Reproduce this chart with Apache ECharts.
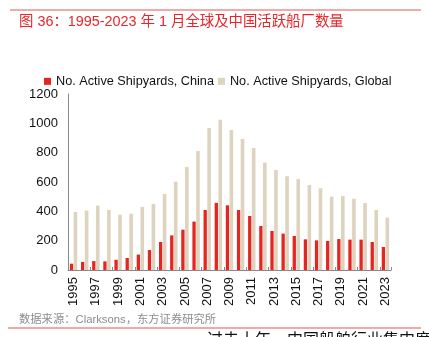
<!DOCTYPE html>
<html><head><meta charset="utf-8">
<script src="https://cdn.jsdelivr.net/npm/echarts@6/dist/echarts.min.js"></script>
<style>html,body{margin:0;padding:0;background:#fff}#c{width:429px;height:337px}</style>
</head><body><div id="c"></div>
<script>
var years = ['1995','1996','1997','1998','1999','2000','2001','2002','2003','2004','2005','2006','2007','2008','2009','2010','2011','2012','2013','2014','2015','2016','2017','2018','2019','2020','2021','2022','2023'];
var china = [43,55,61,59,70,82,105,136,191,236,275,330,409,458,441,409,368,300,266,248,232,209,202,198,211,207,207,191,157];
var globalVals = [395,405,439,409,377,384,430,450,518,602,702,811,968,1024,955,893,832,732,682,639,620,580,557,500,505,486,457,409,357];
var yTicks = {min:0, max:1200, interval:200};
var FF = '"Liberation Sans", Arial, "Noto Sans CJK SC", sans-serif';

var chart = echarts.init(document.getElementById('c'), null, {renderer:'canvas'});
chart.setOption({
  animation:false,
  textStyle:{fontFamily:FF},
  graphic:[
    {type:'line', shape:{x1:10,y1:10,x2:421,y2:10}, style:{stroke:'#F08C8C', lineWidth:1.5}},
    {type:'text', left:19, top:15, style:{text:'图 36：1995-2023 年 1 月全球及中国活跃船厂数量', fill:'#E8262A', font:'14.4px '+FF}},
    {type:'text', left:19, top:314, style:{text:'数据来源：Clarksons，东方证券研究所', fill:'#8C8C8C', font:'11.3px '+FF}},
    {type:'line', shape:{x1:8,y1:328,x2:421,y2:328}, style:{stroke:'#F08C8C', lineWidth:1.5}},
    {type:'text', left:207, top:333, style:{text:'过去十年，中国船舶行业集中度提升明显', fill:'#111', font:'16px '+FF}}
  ],
  legend:{
    left:39, top:70, itemWidth:7, itemHeight:7, itemGap:4, icon:'rect',
    textStyle:{fontSize:12.7, color:'#111', fontFamily:FF},
    data:['No. Active Shipyards, China','No. Active Shipyards, Global']
  },
  grid:{left:68, right:38, top:94, bottom:67},
  xAxis:{
    type:'category', data:years,
    axisLine:{lineStyle:{color:'#888'}},
    axisTick:{show:true, interval:1, inside:true, length:3, lineStyle:{color:'#888'}},
    axisLabel:{interval:1, rotate:90, fontSize:13, color:'#111', margin:7, fontFamily:FF}
  },
  yAxis:{
    type:'value', min:yTicks.min, max:yTicks.max, interval:yTicks.interval,
    axisLine:{show:true, lineStyle:{color:'#888'}},
    axisTick:{show:false},
    splitLine:{show:false},
    axisLabel:{fontSize:13, color:'#111', margin:10, fontFamily:FF, formatter:function(v){return String(v);}}
  },
  series:[
    {name:'No. Active Shipyards, China', type:'bar', data:china, barWidth:3.3, barGap:'15%',
     itemStyle:{color:'#E52521'}},
    {name:'No. Active Shipyards, Global', type:'bar', data:globalVals, barWidth:3.6,
     itemStyle:{color:'#DDD3BE'}}
  ]
});
</script></body></html>
